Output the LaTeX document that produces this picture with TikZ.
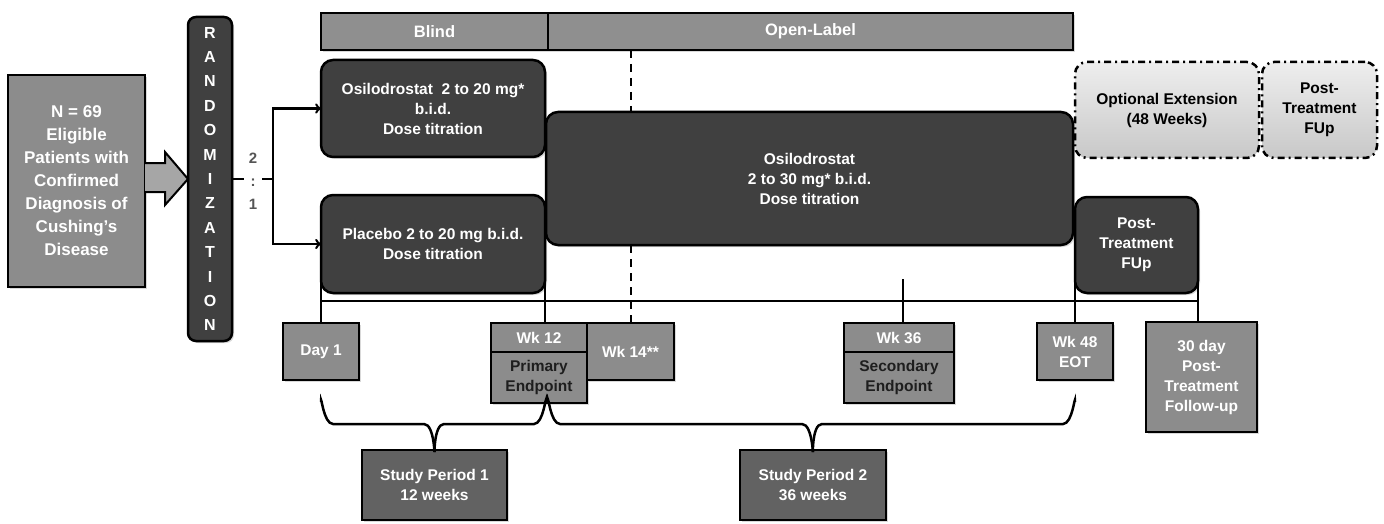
\documentclass[tikz,border=0pt]{standalone}
\usepackage{fontspec}
\setmainfont{Liberation Sans}
\usetikzlibrary{shadows}

\definecolor{darkfill}{HTML}{404040}
\definecolor{midfill}{HTML}{8C8C8C}
\definecolor{barfill}{HTML}{8F8F8F}
\definecolor{periodfill}{HTML}{626262}
\definecolor{arrowfill}{HTML}{A6A6A6}
\definecolor{opttop}{HTML}{EEEEEE}
\definecolor{optbottom}{HTML}{C8C8C8}
\definecolor{ratiotext}{HTML}{555555}
\definecolor{endtext}{HTML}{1E1E1E}

\begin{document}
\begin{tikzpicture}[x=1pt,y=-1pt,
  every node/.style={inner sep=0pt,outer sep=0pt,align=center,
    font=\fontsize{15.5}{20}\selectfont\bfseries},
  sz/.style 2 args={minimum width=#1,minimum height=#2},
  shade/.style={drop shadow={shadow xshift=2pt,shadow yshift=-2pt,opacity=.3}},
  darkbox/.style={draw,line width=2.5pt,rounded corners=12pt,fill=darkfill,text=white,shade},
  greybox/.style={draw,line width=2.5pt,fill=midfill,text=white,shade},
  phasebar/.style={draw,line width=2.5pt,fill=barfill,text=white,shade},
  periodbox/.style={draw,line width=2.5pt,fill=periodfill,text=white,shade},
  optbox/.style={draw,line width=2.5pt,rounded corners=12pt,top color=opttop,
    bottom color=optbottom,dash pattern=on 7pt off 4pt on 2pt off 4pt},
  line/.style={line width=2.5pt},
  dashline/.style={line width=2pt,dash pattern=on 8pt off 6pt}]

  \useasboundingbox (0,0) rectangle (1384,524);

  % Enrolment and randomization
  \node[greybox,sz={137pt}{212pt},font=\fontsize{17}{23}\selectfont\bfseries] (patients) at (76.5,181)
    {N = 69\\Eligible\\Patients with\\Confirmed\\Diagnosis of\\Cushing’s\\Disease};
  \node[darkbox,rounded corners=8pt,sz={44pt}{324pt},font=\fontsize{16}{24.4}\selectfont\bfseries] (rand) at (210,179)
    {R\\A\\N\\D\\O\\M\\I\\Z\\A\\T\\I\\O\\N};

  % Phases
  \node[phasebar,sz={227pt}{37pt},font=\fontsize{16.5}{20}\selectfont\bfseries] (blind) at (434.5,31.5) {Blind};
  \node[phasebar,sz={525pt}{37pt},font=\fontsize{16.5}{20}\selectfont\bfseries] (openlabel) at (810.5,31.5) {Open-Label};

  % Treatment arms
  \node[darkbox,sz={224pt}{97pt}] (osilo) at (433,108.5)
    {Osilodrostat\ \ 2 to 20 mg*\\b.i.d.\\Dose titration};
  \node[darkbox,sz={224pt}{98pt}] (placebo) at (433,244)
    {Placebo 2 to 20 mg b.i.d.\\Dose titration};
  \node[darkbox,sz={527pt}{133pt}] (openarm) at (809.5,178.5)
    {Osilodrostat\\2 to 30 mg* b.i.d.\\Dose titration};
  \node[darkbox,sz={123pt}{96pt}] (posttx) at (1136.5,245)
    {Post-\\Treatment\\FUp};
  \node[optbox,sz={184pt}{96pt}] (optext) at (1167,110)
    {Optional Extension\\(48 Weeks)};
  \node[optbox,sz={115pt}{96pt}] (optfup) at (1319.5,110)
    {Post-\\Treatment\\FUp};

  % Visits
  \node[greybox,sz={76pt}{57pt}] (day1) at (321,351.5) {Day 1};
  \node[greybox,sz={96pt}{29pt}] (wk12) at (539,337.5) {Wk 12};
  \node[greybox,sz={96pt}{51pt},text=endtext] (primary) at (539,377.5) {Primary\\Endpoint};
  \node[greybox,sz={87pt}{57pt}] (wk14) at (630.5,351.5) {Wk 14**};
  \node[greybox,sz={110pt}{29pt}] (wk36) at (899,337.5) {Wk 36};
  \node[greybox,sz={110pt}{51pt},text=endtext] (secondary) at (899,377.5) {Secondary\\Endpoint};
  \node[greybox,sz={76pt}{57pt}] (wk48) at (1075,351.5) {Wk 48\\EOT};
  \node[greybox,sz={111pt}{110pt}] (fu30) at (1201.5,377) {30 day\\Post-\\Treatment\\Follow-up};

  % Study periods
  \node[periodbox,sz={145pt}{70pt}] (period1) at (434.5,485) {Study Period 1\\12 weeks};
  \node[periodbox,sz={146pt}{70pt}] (period2) at (813,485) {Study Period 2\\36 weeks};

  % Fat arrow into randomization
  \draw[line width=2pt,fill=arrowfill] (patients.east |- 0,163) -- (165,163) -- (165,152)
    -- (rand.west |- 0,179) -- (165,205) -- (165,192) -- (patients.east |- 0,192);

  % 2:1 split
  \node[fill=white,minimum width=18pt,text=ratiotext,font=\fontsize{15}{23}\selectfont\bfseries] (ratio) at (253,181) {2\\:\\1};
  \coordinate (split) at (273,179);
  \draw[line] (rand.east) -- (ratio.west |- rand.east);
  \draw[line] (ratio.east |- split) -- (split);
  \draw[line,->] (split) |- (osilo.west);
  \draw[line,->] (split) |- (placebo.west);

  % Timeline
  \coordinate (tla) at (321,301);
  \coordinate (tlb) at (1198,301);
  \coordinate (wk36top) at (903,279);
  \draw[line] (tla) -- (tlb);
  \draw[line] ([yshift=12pt]placebo.south west) -- (day1.north);
  \draw[line] ([yshift=12pt]placebo.south east) -- (placebo.south east |- wk12.north);
  \draw[line] (wk36top) -- (wk36top |- wk36.north);
  \draw[line] ([yshift=12pt]posttx.south west) -- (wk48.north);
  \draw[line] ([yshift=12pt]posttx.south east) -- (posttx.south east |- fu30.north);
  \draw[dashline] (wk14.north |- blind.south) -- (wk14.north |- openarm.north);
  \draw[dashline] (wk14.north |- openarm.south) -- (wk14.north);

  % Braces
  \coordinate (b1l) at (321,402);
  \coordinate (b1r) at (546,402);
  \coordinate (b2l) at (548,402);
  \coordinate (b2r) at (1075,402);
  \draw[line] (b1l) to[out=90,in=180] ++(12,22) -- (424,424) to[out=0,in=-90] (period1.north);
  \draw[line] (period1.north) to[out=-90,in=180] (444,424) -- (534,424) to[out=0,in=90] (b1r);
  \draw[line] (b2l) to[out=90,in=180] ++(12,22) -- (802,424) to[out=0,in=-90] (period2.north);
  \draw[line] (period2.north) to[out=-90,in=180] (822,424) -- (1063,424) to[out=0,in=90] (b2r);

\end{tikzpicture}
\end{document}
